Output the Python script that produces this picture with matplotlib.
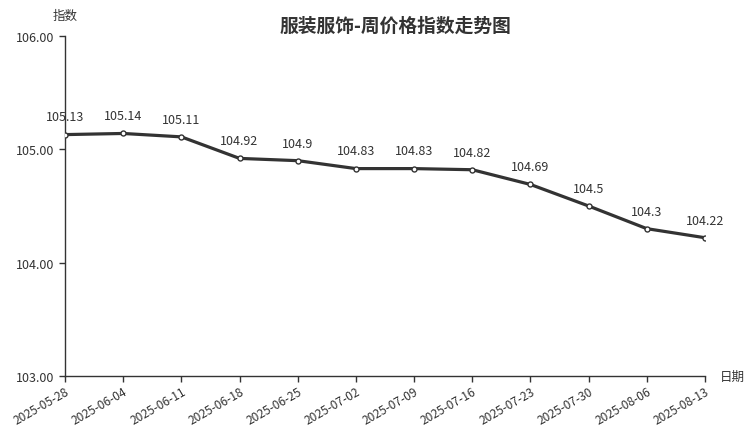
import matplotlib
matplotlib.use('Agg')
import matplotlib.pyplot as plt
from matplotlib.ticker import FormatStrFormatter

plt.rcParams['font.family'] = ['Noto Sans CJK SC', 'DejaVu Sans']

dates = ['2025-05-28', '2025-06-04', '2025-06-11', '2025-06-18', '2025-06-25', '2025-07-02',
         '2025-07-09', '2025-07-16', '2025-07-23', '2025-07-30', '2025-08-06', '2025-08-13']
values = [105.13, 105.14, 105.11, 104.92, 104.9, 104.83, 104.83, 104.82, 104.69, 104.5, 104.3, 104.22]
labels = ['105.13', '105.14', '105.11', '104.92', '104.9', '104.83', '104.83', '104.82',
          '104.69', '104.5', '104.3', '104.22']

W, H = 752, 427
fig = plt.figure(figsize=(W/100, H/100), dpi=100)
ax = fig.add_axes([65/W, (H-377)/H, (705-65)/W, (377-37)/H])

x = list(range(len(dates)))
ax.plot(x, values, color='#333333', lw=2.3, marker='o', ms=3.6,
        mfc='white', mec='#333333', mew=1, solid_capstyle='round', zorder=3)
for xi, v, lab in zip(x, values, labels):
    ax.annotate(lab, (xi, v), xytext=(0, 8), textcoords='offset points',
                ha='center', va='bottom', fontsize=9, color='#333333')

ax.set_xlim(0, len(dates)-1)
ax.set_ylim(103, 106)
ax.set_yticks([103, 104, 105, 106])
ax.yaxis.set_major_formatter(FormatStrFormatter('%.2f'))
ax.set_xticks(x)
ax.set_xticklabels(dates, rotation=30, ha='right', rotation_mode='anchor')
ax.tick_params(axis='both', colors='#333333', length=4, width=1)
ax.tick_params(axis='y', labelsize=9)
ax.tick_params(axis='x', labelsize=8.6, pad=2)
for s in ['top', 'right']:
    ax.spines[s].set_visible(False)
for s in ['left', 'bottom']:
    ax.spines[s].set_color('#333333')
    ax.spines[s].set_linewidth(1)

fig.text(65/W, 1-16/H, '指数', ha='center', va='center', fontsize=9, color='#333333')
fig.text(720/W, 1-377/H, '日期', ha='left', va='center', fontsize=9, color='#333333')
fig.text(395/W, 1-26/H, '服装服饰-周价格指数走势图', ha='center', va='center',
         fontsize=13.5, fontweight='bold', color='#333333')

fig.savefig('out.png', dpi=100)
